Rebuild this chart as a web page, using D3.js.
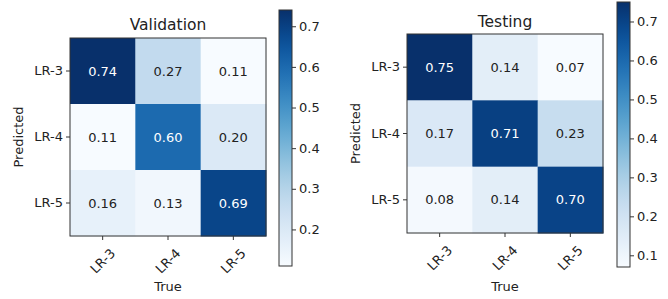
<!DOCTYPE html>
<html>
<head>
<meta charset="utf-8">
<script src="https://cdn.jsdelivr.net/npm/d3@7"></script>
<style>
  body { margin: 0; background: #fff; }
  text { font-family: "DejaVu Sans", sans-serif; fill: #222; }
</style>
</head>
<body>
<div id="chart"></div>
<script>
// labels shared by both matrices
const classes = ["LR-3", "LR-4", "LR-5"];

// rows = Predicted, cols = True
const validation = [
  [0.74, 0.27, 0.11],
  [0.11, 0.60, 0.20],
  [0.16, 0.13, 0.69]
];
const testing = [
  [0.75, 0.14, 0.07],
  [0.17, 0.71, 0.23],
  [0.08, 0.14, 0.70]
];

const valTicks = [0.2, 0.3, 0.4, 0.5, 0.6, 0.7];
const testTicks = [0.1, 0.2, 0.3, 0.4, 0.5, 0.6, 0.7];

const W = 668, H = 299;
const svg = d3.select("#chart").append("svg")
  .attr("width", W).attr("height", H);

// where each panel sits
const panels = [
  {title: "Validation", data: validation, ticks: valTicks,
   hx: [70, 266], hy: [38, 236], cx: [279, 292], cy: [10, 266], ty: 30},
  {title: "Testing", data: testing, ticks: testTicks,
   hx: [407, 603], hy: [34, 233], cx: [617, 630], cy: [2, 267], ty: 27}
];

const defs = svg.append("defs");

panels.forEach((p, pi) => {
  const flat = p.data.flat();
  const ext = d3.extent(flat);
  const color = d3.scaleSequential(d3.interpolateBlues).domain(ext);

  const x = d3.scaleBand().domain(classes).range(p.hx);
  const y = d3.scaleBand().domain(classes).range(p.hy);

  const g = svg.append("g");

  // cells
  const cells = [];
  p.data.forEach((row, i) => row.forEach((v, j) => cells.push({r: classes[i], c: classes[j], v: v})));

  g.selectAll("rect.cell")
    .data(cells)
    .enter()
    .append("rect")
      .attr("class", "cell")
      .attr("x", d => x(d.c))
      .attr("y", d => y(d.r))
      .attr("width", x.bandwidth() + 0.5)
      .attr("height", y.bandwidth() + 0.5)
      .attr("fill", d => color(d.v));

  const thresh = ext[1] / 2;
  g.selectAll("text.val")
    .data(cells)
    .enter()
    .append("text")
      .attr("class", "val")
      .attr("x", d => x(d.c) + x.bandwidth() / 2)
      .attr("y", d => y(d.r) + y.bandwidth() / 2)
      .attr("text-anchor", "middle")
      .attr("dominant-baseline", "central")
      .style("font-size", "13px")
      .style("fill", d => d.v > thresh ? "#fff" : "#222")
      .text(d => d.v.toFixed(2));

  // frame
  g.append("rect")
    .attr("x", p.hx[0]).attr("y", p.hy[0])
    .attr("width", p.hx[1] - p.hx[0]).attr("height", p.hy[1] - p.hy[0])
    .attr("fill", "none").attr("stroke", "#333").attr("stroke-width", 1);

  // axes
  const ax = g.append("g")
    .attr("transform", "translate(0," + p.hy[1] + ")")
    .call(d3.axisBottom(x).tickSize(4).tickSizeOuter(0));
  ax.select(".domain").remove();
  ax.selectAll("line").attr("stroke", "#333");
  ax.selectAll("text")
    .style("font-size", "13px")
    .attr("text-anchor", "middle")
    .attr("dominant-baseline", "central")
    .attr("y", 0).attr("dy", 0)
    .attr("transform", "translate(0,25) rotate(-45)");

  const ay = g.append("g")
    .attr("transform", "translate(" + p.hx[0] + ",0)")
    .call(d3.axisLeft(y).tickSize(4).tickSizeOuter(0));
  ay.select(".domain").remove();
  ay.selectAll("line").attr("stroke", "#333");
  ay.selectAll("text").style("font-size", "13px").attr("x", -7);

  // titles
  g.append("text")
    .attr("x", (p.hx[0] + p.hx[1]) / 2).attr("y", p.ty)
    .attr("text-anchor", "middle")
    .style("font-size", "15.5px")
    .text(p.title);

  g.append("text")
    .attr("x", (p.hx[0] + p.hx[1]) / 2).attr("y", H - 8)
    .attr("text-anchor", "middle")
    .style("font-size", "13px")
    .text("True");

  g.append("text")
    .attr("transform", "translate(" + (p.hx[0] - 52) + "," + ((p.hy[0] + p.hy[1]) / 2) + ") rotate(-90)")
    .attr("text-anchor", "middle")
    .attr("dominant-baseline", "central")
    .style("font-size", "13px")
    .text("Predicted");

  // colorbar
  const gid = "grad" + pi;
  const grad = defs.append("linearGradient")
    .attr("id", gid).attr("x1", 0).attr("y1", 1).attr("x2", 0).attr("y2", 0);
  d3.range(0, 1.0001, 0.05).forEach(t => {
    grad.append("stop").attr("offset", t).attr("stop-color", d3.interpolateBlues(t));
  });

  const cs = d3.scaleLinear().domain(ext).range([p.cy[1], p.cy[0]]);
  g.append("rect")
    .attr("x", p.cx[0]).attr("y", p.cy[0])
    .attr("width", p.cx[1] - p.cx[0]).attr("height", p.cy[1] - p.cy[0])
    .attr("fill", "url(#" + gid + ")")
    .attr("stroke", "#333").attr("stroke-width", 1);

  const ac = g.append("g")
    .attr("transform", "translate(" + p.cx[1] + ",0)")
    .call(d3.axisRight(cs).tickValues(p.ticks).tickFormat(d3.format(".1f")).tickSize(4));
  ac.select(".domain").remove();
  ac.selectAll("line").attr("stroke", "#333");
  ac.selectAll("text").style("font-size", "13px").attr("x", 7);
});
</script>
</body>
</html>
